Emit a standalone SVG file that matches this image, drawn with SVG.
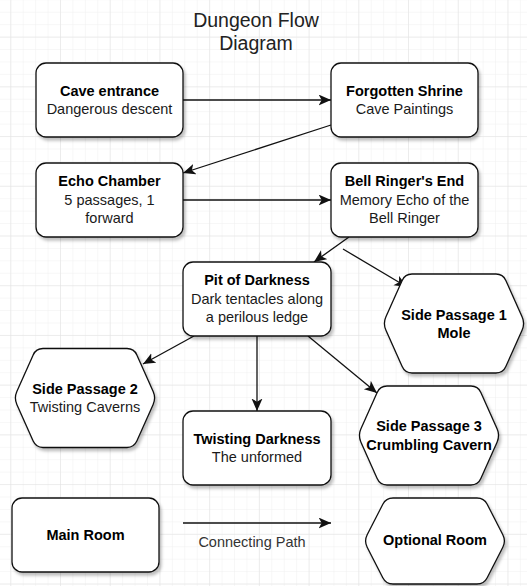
<svg xmlns="http://www.w3.org/2000/svg" width="527" height="586" viewBox="0 0 527 586">
<style>
.box{fill:#fff;stroke:#111;stroke-width:1.3;filter:url(#sh)}
.t{font-family:"Liberation Sans",Arial,sans-serif;font-size:14.5px;text-anchor:middle;fill:#1a1a1a}
.b{font-weight:bold;fill:#000}
.title{font-family:"Liberation Sans",Arial,sans-serif;font-size:19.5px;text-anchor:middle;fill:#222}
.edge{fill:none;stroke:#111;stroke-width:1.3;marker-end:url(#arr)}
</style>
<defs>
<pattern id="minor" x="10.28" y="-13.1" width="12.43" height="12.43" patternUnits="userSpaceOnUse">
<path d="M0,0 V12.43 M0,0 H12.43" fill="none" stroke="#efefef" stroke-width="1"/>
</pattern>
<pattern id="major" x="10.28" y="-13.1" width="49.72" height="49.72" patternUnits="userSpaceOnUse">
<path d="M0,0 V49.72 M0,0 H49.72" fill="none" stroke="#e2e2e2" stroke-width="1"/>
</pattern>
<filter id="sh" x="-20%" y="-20%" width="140%" height="150%">
<feDropShadow dx="2" dy="3" stdDeviation="1.5" flood-color="#000" flood-opacity="0.25"/>
</filter>
<marker id="arr" markerUnits="userSpaceOnUse" markerWidth="15" markerHeight="13" refX="12.5" refY="5.5" orient="auto">
<path d="M0,0 L12.5,5.5 L0,11 L3.2,5.5 Z" fill="#111"/>
</marker>
<path id="hex99" d="M29,0 L113,0 Q120,0 122.84,6.39 L139.16,43.11 Q142,49.5 139.16,55.89 L122.84,92.61 Q120,99 113,99 L29,99 Q22,99 19.16,92.61 L2.84,55.89 Q0,49.5 2.84,43.11 L19.16,6.39 Q22,0 29,0 Z"/>
<path id="hex86" d="M29,0 L113,0 Q120,0 123.19,6.23 L138.81,36.77 Q142,43 138.81,49.23 L123.19,79.77 Q120,86 113,86 L29,86 Q22,86 18.81,79.77 L3.19,49.23 Q0,43 3.19,36.77 L18.81,6.23 Q22,0 29,0 Z"/>
</defs>
<rect width="527" height="586" fill="#fff"/>
<rect width="527" height="586" fill="url(#minor)"/>
<rect width="527" height="586" fill="url(#major)"/>

<g id="title">
<text class="title" x="256" y="27">Dungeon Flow</text>
<text class="title" x="256" y="50">Diagram</text>
</g>

<g id="connectors">
<path class="edge" d="M183,100 L331,100"/>
<path class="edge" d="M331,125 L183,173"/>
<path class="edge" d="M183,200 L331,200"/>
<path class="edge" d="M349,237 L314,262"/>
<path class="edge" d="M343,249 L407,287"/>
<path class="edge" d="M194,336 L143,364"/>
<path class="edge" d="M257,336 L257,411"/>
<path class="edge" d="M308,336 L377,393"/>
<path class="edge" d="M183,523 L331,523"/>
<text class="t" x="252" y="547" style="fill:#333">Connecting Path</text>
</g>

<g id="cave-entrance">
<rect class="box" x="36" y="63" width="147" height="74" rx="10"/>
<text class="t b" x="109.5" y="96">Cave entrance</text>
<text class="t" x="109.5" y="114">Dangerous descent</text>
</g>
<g id="forgotten-shrine">
<rect class="box" x="331" y="63" width="147" height="74" rx="10"/>
<text class="t b" x="404.5" y="96">Forgotten Shrine</text>
<text class="t" x="404.5" y="114">Cave Paintings</text>
</g>
<g id="echo-chamber">
<rect class="box" x="36" y="163" width="147" height="74" rx="10"/>
<text class="t b" x="109.5" y="186">Echo Chamber</text>
<text class="t" x="109.5" y="204.5">5 passages, 1</text>
<text class="t" x="109.5" y="222.5">forward</text>
</g>
<g id="bell-ringers-end">
<rect class="box" x="331" y="163" width="147" height="74" rx="10"/>
<text class="t b" x="404.5" y="186">Bell Ringer's End</text>
<text class="t" x="404.5" y="204.5">Memory Echo of the</text>
<text class="t" x="404.5" y="222.5">Bell Ringer</text>
</g>
<g id="pit-of-darkness">
<rect class="box" x="183" y="262" width="148" height="74" rx="10"/>
<text class="t b" x="257" y="285">Pit of Darkness</text>
<text class="t" x="257" y="303.5">Dark tentacles along</text>
<text class="t" x="257" y="322">a perilous ledge</text>
</g>
<g id="side-passage-1">
<use href="#hex99" class="box" x="383" y="274"/>
<text class="t b" x="454" y="319.5">Side Passage 1</text>
<text class="t b" x="454" y="337.5">Mole</text>
</g>
<g id="side-passage-2">
<use href="#hex99" class="box" x="14" y="348.5"/>
<text class="t b" x="85" y="394">Side Passage 2</text>
<text class="t" x="85" y="412">Twisting Caverns</text>
</g>
<g id="twisting-darkness">
<rect class="box" x="183" y="411" width="148" height="74" rx="10"/>
<text class="t b" x="257" y="443.5">Twisting Darkness</text>
<text class="t" x="257" y="462">The unformed</text>
</g>
<g id="side-passage-3">
<use href="#hex99" class="box" x="358" y="386"/>
<text class="t b" x="429" y="431">Side Passage 3</text>
<text class="t b" x="429" y="449.5">Crumbling Cavern</text>
</g>
<g id="main-room">
<rect class="box" x="12" y="498" width="147" height="74" rx="10"/>
<text class="t b" x="85.5" y="539.5">Main Room</text>
</g>
<g id="optional-room">
<use href="#hex86" class="box" x="364" y="498"/>
<text class="t b" x="435" y="545">Optional Room</text>
</g>
</svg>
